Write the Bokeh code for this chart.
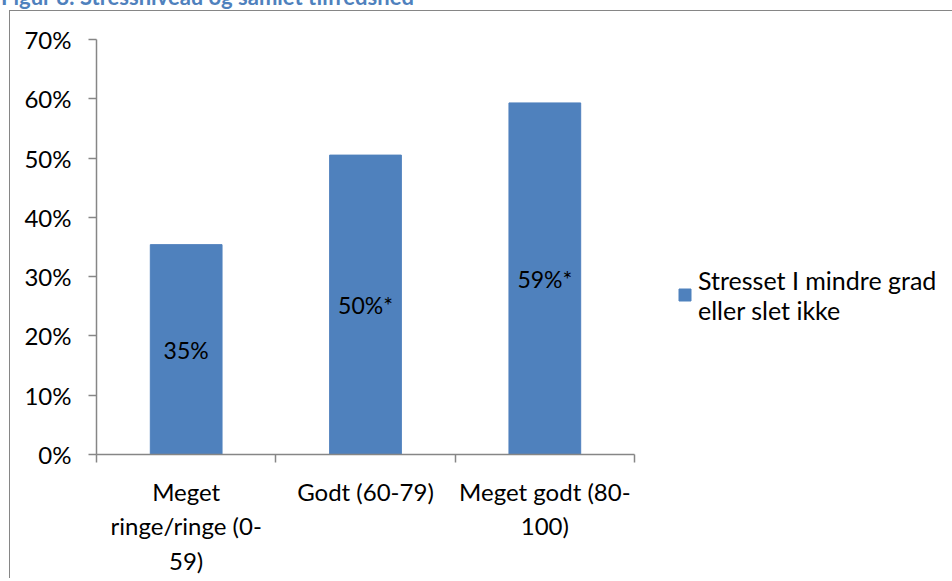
from bokeh.plotting import figure
from bokeh.layouts import column
from bokeh.models import (ColumnDataSource, Range1d, FixedTicker, LinearAxis,
                          Legend, LegendItem, Div)
from bokeh.core.properties import value
from bokeh.embed import file_html
from bokeh.resources import INLINE

# Chart data
title_text = "Figur 8: Stressniveau og samlet tilfredshed"
categories = ["Meget ringe/ringe (0-59)", "Godt (60-79)", "Meget godt (80-100)"]
category_labels = ["Meget\nringe/ringe (0-\n59)", "Godt (60-79)", "Meget godt (80-\n100)"]
series_name = "Stresset I mindre grad\neller slet ikke"
shares = [35.4, 50.5, 59.3]          # percent
significant = [False, True, True]     # marked with an asterisk
y_ticks = [0, 10, 20, 30, 40, 50, 60, 70]

FONT = "Lato"
BAR_COLOR = "#4F81BD"
AXIS_COLOR = "#868686"
AXIS_TEXT = "24px"
BAR_TEXT = "23px"
LEGEND_TEXT = "25px"

n = len(categories)
centers = [i + 0.5 for i in range(n)]
labels = [f"{int(v)}%" + ("*" if s else "") for v, s in zip(shares, significant)]
source = ColumnDataSource(dict(x=centers, cat=categories, share=shares,
                               mid=[v / 2 for v in shares], label=labels))

# caption above the framed figure
caption = Div(text=f'<div style="font: bold 22px Lato; color: {BAR_COLOR}; line-height: 22px; '
                   f'position: relative; left: -4px; white-space: nowrap;">{title_text}</div>',
              width=952, height=22, styles={"overflow": "visible", "margin-top": "-14.5px"})

p = figure(width=940, height=568, x_range=Range1d(0, n), y_range=Range1d(0, 70),
           frame_width=537, frame_height=414,
           output_backend="svg", toolbar_location=None,
           min_border_left=86, min_border_right=316, min_border_top=28, min_border_bottom=125,
           styles={"margin-left": "9px", "margin-top": "-2.8px",
                   "border-left": f"1.5px solid {AXIS_COLOR}",
                   "border-top": f"1.5px solid {AXIS_COLOR}"})
p.outline_line_color = None
p.xgrid.grid_line_color = None
p.ygrid.grid_line_color = None
p.background_fill_color = "white"
p.border_fill_color = "white"

bars = p.vbar(x="x", top="share", width=0.4, source=source,
              fill_color=BAR_COLOR, line_color=BAR_COLOR)

p.text(x="x", y="mid", text="label", source=source, text_align="center",
       text_baseline="middle", text_font=value(FONT), text_font_size=BAR_TEXT,
       text_color="black")

# y axis
yax = p.yaxis[0]
yax.ticker = FixedTicker(ticks=y_ticks)
yax.major_label_overrides = {t: f"{t}%" for t in y_ticks}
yax.minor_tick_line_color = None
yax.major_tick_in = 0
yax.major_tick_out = 8
yax.major_label_standoff = 17
yax.axis_line_color = AXIS_COLOR
yax.major_tick_line_color = AXIS_COLOR
yax.axis_line_width = 1.5
yax.major_tick_line_width = 1.5
yax.major_label_text_font = FONT
yax.major_label_text_font_size = AXIS_TEXT
yax.major_label_text_color = "black"

# x axis: line with ticks on the category boundaries
xax = p.xaxis[0]
xax.ticker = FixedTicker(ticks=list(range(n + 1)))
xax.major_label_text_font_size = "0px"
xax.major_label_standoff = 0
xax.major_tick_in = 0
xax.major_tick_out = 8
xax.minor_tick_line_color = None
xax.axis_line_color = AXIS_COLOR
xax.major_tick_line_color = AXIS_COLOR
xax.axis_line_width = 1.5
xax.major_tick_line_width = 1.5

# category names under the bars
cat_axis = LinearAxis(ticker=FixedTicker(ticks=centers),
                      major_label_overrides=dict(zip(centers, category_labels)),
                      axis_line_color=None, major_tick_line_color=None,
                      minor_tick_line_color=None, major_label_standoff=8,
                      major_label_text_font=FONT, major_label_text_font_size=AXIS_TEXT,
                      major_label_text_color="black")
p.add_layout(cat_axis, "below")

# legend beside the plot
legend = Legend(items=[LegendItem(label=series_name, renderers=[bars])],
                location=(43, 129), padding=0, margin=0, spacing=0,
                glyph_width=15, glyph_height=15, label_standoff=6,
                label_text_font=FONT, label_text_font_size=LEGEND_TEXT,
                label_text_color="black", border_line_color=None,
                background_fill_alpha=0)
p.add_layout(legend, "right")

layout = column(caption, p, spacing=0)
open("out.html", "w").write(file_html(layout, INLINE))
